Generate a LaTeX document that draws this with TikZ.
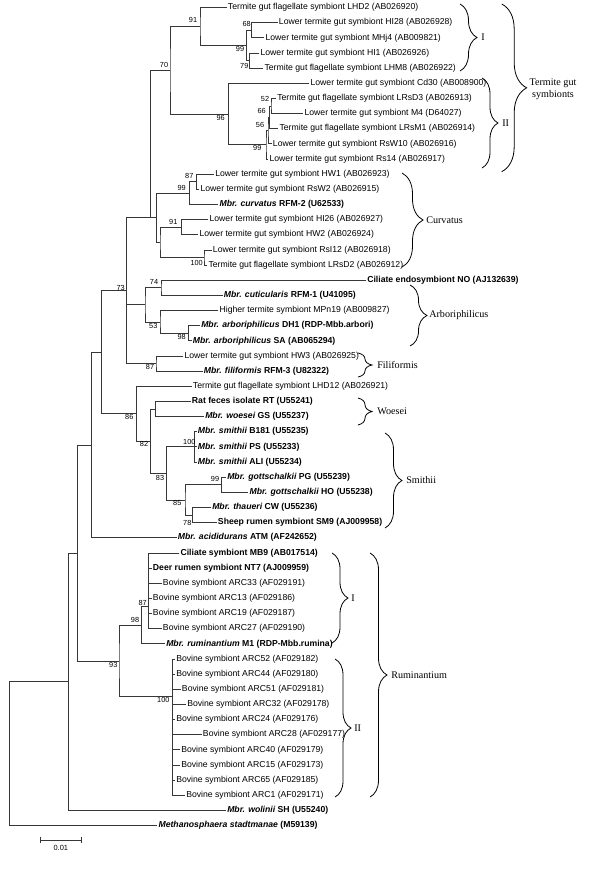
\documentclass[tikz,border=0pt]{standalone}
\usepackage{fontspec}
\setmainfont{Liberation Sans}
\newfontfamily\cladefont{Liberation Serif}
\usetikzlibrary{decorations.pathreplacing}

\tikzset{
  branch/.style={line width=0.6pt, color={rgb, 255:red, 55; green, 55; blue, 55 }},
  leaf/.style={anchor=west, inner sep=0.75pt, font=\fontsize{6.5}{7}\selectfont},
  boot/.style={inner sep=0.5pt, font=\fontsize{5.5}{6}\selectfont},
  clade/.style={anchor=west, inner sep=0.75pt, font=\cladefont\fontsize{7.6}{9}\selectfont},
  cbrace/.style={decorate, decoration={brace, amplitude=#1}, line width=0.6pt}
}

\begin{document}
\begin{tikzpicture}[x=0.75pt,y=0.75pt,yscale=-1,xscale=1]
\useasboundingbox (0,0) rectangle (600,891);

% Text Node: leaves
\node [leaf] (l1) at (226.7,7.5) {Termite gut flagellate symbiont LHD2 (AB026920)};
\node [leaf] (l2) at (277.7,22.65) {Lower termite gut symbiont HI28 (AB026928)};
\node [leaf] (l3) at (264.3,37.8) {Lower termite gut symbiont MHj4 (AB009821)};
\node [leaf] (l4) at (259.3,52.95) {Lower termite gut symbiont HI1 (AB026926)};
\node [leaf] (l5) at (263.3,68.1) {Termite gut flagellate symbiont LHM8 (AB026922)};
\node [leaf] (l6) at (309.3,83.25) {Lower termite gut symbiont Cd30 (AB008900)};
\node [leaf] (l7) at (276,98.4) {Termite gut flagellate symbiont LRsD3 (AB026913)};
\node [leaf] (l8) at (303.3,113.55) {Lower termite gut symbiont M4 (D64027)};
\node [leaf] (l9) at (278.3,128.7) {Termite gut flagellate symbiont LRsM1 (AB026914)};
\node [leaf] (l10) at (271.7,143.85) {Lower termite gut symbiont RsW10 (AB026916)};
\node [leaf] (l11) at (268.3,159) {Lower termite gut symbiont Rs14 (AB026917)};
\node [leaf] (l12) at (214,174.15) {Lower termite gut symbiont HW1 (AB026923)};
\node [leaf] (l13) at (199.3,189.3) {Lower termite gut symbiont RsW2 (AB026915)};
\node [leaf] (l14) at (218.3,204.45) {\bfseries{\itshape Mbr. curvatus} RFM-2 (U62533)};
\node [leaf] (l15) at (208.3,219.6) {Lower termite gut symbiont HI26 (AB026927)};
\node [leaf] (l16) at (198.3,234.75) {Lower termite gut symbiont HW2 (AB026924)};
\node [leaf] (l17) at (211.7,249.9) {Lower termite gut symbiont RsI12 (AB026918)};
\node [leaf] (l18) at (207.3,265.05) {Termite gut flagellate symbiont LRsD2 (AB026912)};
\node [leaf] (l19) at (366,280.2) {\bfseries Ciliate endosymbiont NO (AJ132639)};
\node [leaf] (l20) at (222.7,295.35) {\bfseries{\itshape Mbr. cuticularis} RFM-1 (U41095)};
\node [leaf] (l21) at (218.3,310.5) {Higher termite symbiont MPn19 (AB009827)};
\node [leaf] (l22) at (200,325.65) {\bfseries{\itshape Mbr. arboriphilicus} DH1 (RDP-Mbb.arbori)};
\node [leaf] (l23) at (191.7,340.8) {\bfseries{\itshape Mbr. arboriphilicus} SA (AB065294)};
\node [leaf] (l24) at (183.3,355.95) {Lower termite gut symbiont HW3 (AB026925)};
\node [leaf] (l25) at (202.7,371.1) {\bfseries{\itshape Mbr. filiformis} RFM-3 (U82322)};
\node [leaf] (l26) at (191.7,386.25) {Termite gut flagellate symbiont LHD12 (AB026921)};
\node [leaf] (l27) at (190.7,401.4) {\bfseries Rat feces isolate RT (U55241)};
\node [leaf] (l28) at (204,416.55) {\bfseries{\itshape Mbr. woesei} GS (U55237)};
\node [leaf] (l29) at (196.7,431.7) {\bfseries{\itshape Mbr. smithii} B181 (U55235)};
\node [leaf] (l30) at (196.7,446.85) {\bfseries{\itshape Mbr. smithii} PS (U55233)};
\node [leaf] (l31) at (196.7,462) {\bfseries{\itshape Mbr. smithii} ALI (U55234)};
\node [leaf] (l32) at (226,477.15) {\bfseries{\itshape Mbr. gottschalkii} PG (U55239)};
\node [leaf] (l33) at (248.3,492.3) {\bfseries{\itshape Mbr. gottschalkii} HO (U55238)};
\node [leaf] (l34) at (211,507.45) {\bfseries{\itshape Mbr. thaueri} CW (U55236)};
\node [leaf] (l35) at (216.7,522.6) {\bfseries Sheep rumen symbiont SM9 (AJ009958)};
\node [leaf] (l36) at (176.7,537.75) {\bfseries{\itshape Mbr. acididurans} ATM (AF242652)};
\node [leaf] (l37) at (179.3,552.9) {\bfseries Ciliate symbiont MB9 (AB017514)};
\node [leaf] (l38) at (151.7,568.05) {\bfseries Deer rumen symbiont NT7 (AJ009959)};
\node [leaf] (l39) at (161.7,583.2) {Bovine symbiont ARC33 (AF029191)};
\node [leaf] (l40) at (151.7,598.35) {Bovine symbiont ARC13 (AF029186)};
\node [leaf] (l41) at (151.7,613.5) {Bovine symbiont ARC19 (AF029187)};
\node [leaf] (l42) at (161.7,628.65) {Bovine symbiont ARC27 (AF029190)};
\node [leaf] (l43) at (165,643.8) {\bfseries{\itshape Mbr. ruminantium} M1 (RDP-Mbb.rumina)};
\node [leaf] (l44) at (175,658.95) {Bovine symbiont ARC52 (AF029182)};
\node [leaf] (l45) at (175,674.1) {Bovine symbiont ARC44 (AF029180)};
\node [leaf] (l46) at (180.7,689.25) {Bovine symbiont ARC51 (AF029181)};
\node [leaf] (l47) at (186,704.4) {Bovine symbiont ARC32 (AF029178)};
\node [leaf] (l48) at (175,719.55) {Bovine symbiont ARC24 (AF029176)};
\node [leaf] (l49) at (201.7,734.7) {Bovine symbiont ARC28 (AF029177)};
\node [leaf] (l50) at (180,749.85) {Bovine symbiont ARC40 (AF029179)};
\node [leaf] (l51) at (180,765) {Bovine symbiont ARC15 (AF029173)};
\node [leaf] (l52) at (175,780.15) {Bovine symbiont ARC65 (AF029185)};
\node [leaf] (l53) at (185,795.3) {Bovine symbiont ARC1 (AF029171)};
\node [leaf] (l54) at (226,810.45) {\bfseries{\itshape Mbr. wolinii} SH (U55240)};
\node [leaf] (l55) at (157.3,825.6) {\bfseries{\itshape Methanosphaera stadtmanae} (M59139)};

% Inner nodes of the tree
\coordinate (n68) at (251.7,30.2);
\coordinate (n79) at (249.3,60.5);
\coordinate (n99a) at (246.7,45.35);
\coordinate (n91a) at (200,26.4);
\coordinate (n52) at (271,106);
\coordinate (n66) at (269.5,117.3);
\coordinate (n56) at (268,130.6);
\coordinate (n99b) at (266,144.8);
\coordinate (n96) at (228.3,114);
\coordinate (n70) at (170,70.2);
\coordinate (n87a) at (196.7,181.7);
\coordinate (n99c) at (189.3,193.1);
\coordinate (n91b) at (181.7,227.2);
\coordinate (n100a) at (204,257.5);
\coordinate (nK) at (160,242.3);
\coordinate (nL) at (156.7,217.7);
\coordinate (nP) at (150,217.7);
\coordinate (n74) at (161,287.8);
\coordinate (n98a) at (188.3,333.2);
\coordinate (n53) at (160,321.9);
\coordinate (nArb) at (145,304.8);
\coordinate (n87b) at (156,363.5);
\coordinate (n73) at (126.7,290.6);
\coordinate (nWo) at (155.7,409);
\coordinate (n100b) at (194.3,446.85);
\coordinate (n99d) at (221.7,484.7);
\coordinate (n78) at (192.7,515);
\coordinate (n85) at (185,499.9);
\coordinate (n83) at (166.7,473.4);
\coordinate (n82) at (150.7,441.2);
\coordinate (n86) at (136.7,413.7);
\coordinate (n101) at (101.7,352.2);
\coordinate (n92) at (91.7,445);
\coordinate (nMB) at (148.8,583.2);
\coordinate (n87c) at (148.3,605.9);
\coordinate (n98b) at (141.7,624.9);
\coordinate (nARC) at (172.8,734.7);
\coordinate (n100c) at (172.3,696.8);
\coordinate (n93) at (119,660.9);
\coordinate (n77) at (77.3,553);
\coordinate (nWol) at (68.3,681.7);
\coordinate (nRoot) at (9.3,753.6);

%Shape: Tree branches
\draw [branch] (l2.west) -| (n68) |- (l3.west);
\draw [branch] (l4.west) -| (n79) |- (l5.west);
\draw [branch] (n68) -| (n99a) |- (n79);
\draw [branch] (l1.west) -| (n91a) |- (n99a);
\draw [branch] (l7.west) -| (n52) |- (l8.west);
\draw [branch] (n52) -| (n66) |- (l9.west);
\draw [branch] (n66) -| (n56) |- (l10.west);
\draw [branch] (n56) -| (n99b) |- (l11.west);
\draw [branch] (l6.west) -| (n96) |- (n99b);
\draw [branch] (n91a) -| (n70) |- (n96);
\draw [branch] (l12.west) -| (n87a) |- (l13.west);
\draw [branch] (n87a) -| (n99c) |- (l14.west);
\draw [branch] (l15.west) -| (n91b) |- (l16.west);
\draw [branch] (l17.west) -| (n100a) |- (l18.west);
\draw [branch] (n91b) -| (nK) |- (n100a);
\draw [branch] (n99c) -| (nL) |- (nK);
\draw [branch] (n70) -| (nP) -- (nL);
\draw [branch] (l19.west) -| (n74) |- (l20.west);
\draw [branch] (l22.west) -| (n98a) |- (l23.west);
\draw [branch] (l21.west) -| (n53) |- (n98a);
\draw [branch] (n74) -| (nArb) |- (n53);
\draw [branch] (l24.west) -| (n87b) |- (l25.west);
\draw [branch] (nP) -| (n73) |- (n87b);
\draw [branch] (n73 |- nArb) -- (nArb);
\draw [branch] (l27.west) -| (nWo) |- (l28.west);
\draw [branch] (l29.west) -| (n100b) |- (l31.west);
\draw [branch] (n100b |- l30.west) -- (l30.west);
\draw [branch] (l32.west) -| (n99d) |- (l33.west);
\draw [branch] (l34.west) -| (n78) |- (l35.west);
\draw [branch] (n99d) -| (n85) |- (n78);
\draw [branch] (n100b) -| (n83) |- (n85);
\draw [branch] (nWo) -| (n82) |- (n83);
\draw [branch] (l26.west) -| (n86) |- (n82);
\draw [branch] (n73) -| (n101) |- (n86);
\draw [branch] (n101) -| (n92) |- (l36.west);
\draw [branch] (l37.west) -| (nMB) |- (l41.west);
\foreach \k in {38,39,40} {
  \draw [branch] (nMB |- l\k.west) -- (l\k.west);
}
\draw [branch] (nMB) -| (n87c) |- (l42.west);
\draw [branch] (n87c) -| (n98b) |- (l43.west);
\draw [branch] (l45.west) -| (nARC) |- (l53.west);
\foreach \k in {46,...,52} {
  \draw [branch] (nARC |- l\k.west) -- (l\k.west);
}
\draw [branch] (l44.west) -| (n100c) |- (nARC);
\draw [branch] (n98b) -| (n93) |- (n100c);
\draw [branch] (n92) -| (n77) |- (n93);
\draw [branch] (n77) -| (nWol) |- (l54.west);
\draw [branch] (nWol) -| (nRoot) |- (l55.west);

% Text Node: bootstrap values
\node [boot] (b91a) at (193,20) {91};
\node [boot] (b68) at (246.7,24) {68};
\node [boot] (b99a) at (240,49) {99};
\node [boot] (b79) at (244.3,65.7) {79};
\node [boot] (b70) at (164,65) {70};
\node [boot] (b96) at (220.7,118.3) {96};
\node [boot] (b52) at (265,99.3) {52};
\node [boot] (b66) at (261.7,111) {66};
\node [boot] (b56) at (260,125) {56};
\node [boot] (b99b) at (257.3,148.3) {99};
\node [boot] (b87a) at (189.3,175.7) {87};
\node [boot] (b99c) at (181.7,188.3) {99};
\node [boot] (b91b) at (173.3,221.7) {91};
\node [boot] (b100a) at (196.7,263.3) {100};
\node [boot] (b74) at (154,282.3) {74};
\node [boot] (b53) at (153.3,326) {53};
\node [boot] (b98a) at (181.7,337.3) {98};
\node [boot] (b73) at (120.7,288.3) {73};
\node [boot] (b87b) at (150,366.7) {87};
\node [boot] (b86) at (129.3,416.7) {86};
\node [boot] (b82) at (144,444.3) {82};
\node [boot] (b100b) at (189.3,441.7) {100};
\node [boot] (b83) at (160,477.7) {83};
\node [boot] (b99d) at (215,479.3) {99};
\node [boot] (b85) at (177.3,503.3) {85};
\node [boot] (b78) at (187.3,523.3) {78};
\node [boot] (b87c) at (142.7,602.7) {87};
\node [boot] (b98b) at (135,620) {98};
\node [boot] (b93) at (113.3,665) {93};
\node [boot] (b100c) at (163.3,700) {100};

%Shape: Braces of the groups
\draw [cbrace=12.75pt] (460,4) -- (460,71);
\draw [cbrace=12pt] (482,78) -- (482,168);
\draw [cbrace=18.75pt] (501.7,4) -- (501.7,171.7);
\draw [cbrace=15.75pt] (402,173) -- (402,267);
\draw [cbrace=12.75pt] (410,285) -- (410,346);
\draw [cbrace=10.5pt] (358,353) -- (358,377);
\draw [cbrace=10.5pt] (358,398) -- (358,425);
\draw [cbrace=12.75pt] (385,433) -- (385,528);
\draw [cbrace=12pt] (332,553) -- (332,643);
\draw [cbrace=12pt] (335,659) -- (335,797);
\draw [cbrace=12.75pt] (370,553) -- (370,797);

% Text Node: group names
\node [clade] (gTI) at (480,37.5) {I};
\node [clade, anchor=center, align=center] (gT) at (553,89) {Termite gut\\symbionts};
\node [clade] (gTII) at (501,123) {II};
\node [clade] (gCur) at (425,220) {Curvatus};
\node [clade] (gArb) at (428,315.5) {Arboriphilicus};
\node [clade] (gFil) at (376,365) {Filiformis};
\node [clade] (gWoe) at (376,411.5) {Woesei};
\node [clade] (gSmi) at (405,480.5) {Smithii};
\node [clade] (gRI) at (350,598) {I};
\node [clade] (gRII) at (353,728) {II};
\node [clade] (gRum) at (390,675) {Ruminantium};

%Shape: Scale bar
\coordinate (sb1) at (40.7,840);
\coordinate (sb2) at (81,840);
\draw [branch] (sb1) -- (sb2);
\draw [branch] ([yshift=-2.5]sb1) -- ([yshift=2.5]sb1);
\draw [branch] ([yshift=-2.5]sb2) -- ([yshift=2.5]sb2);
\node [boot, font=\fontsize{5.6}{6}\selectfont] (sbl) at (60.8,847.5) {0.01};

\end{tikzpicture}
\end{document}
